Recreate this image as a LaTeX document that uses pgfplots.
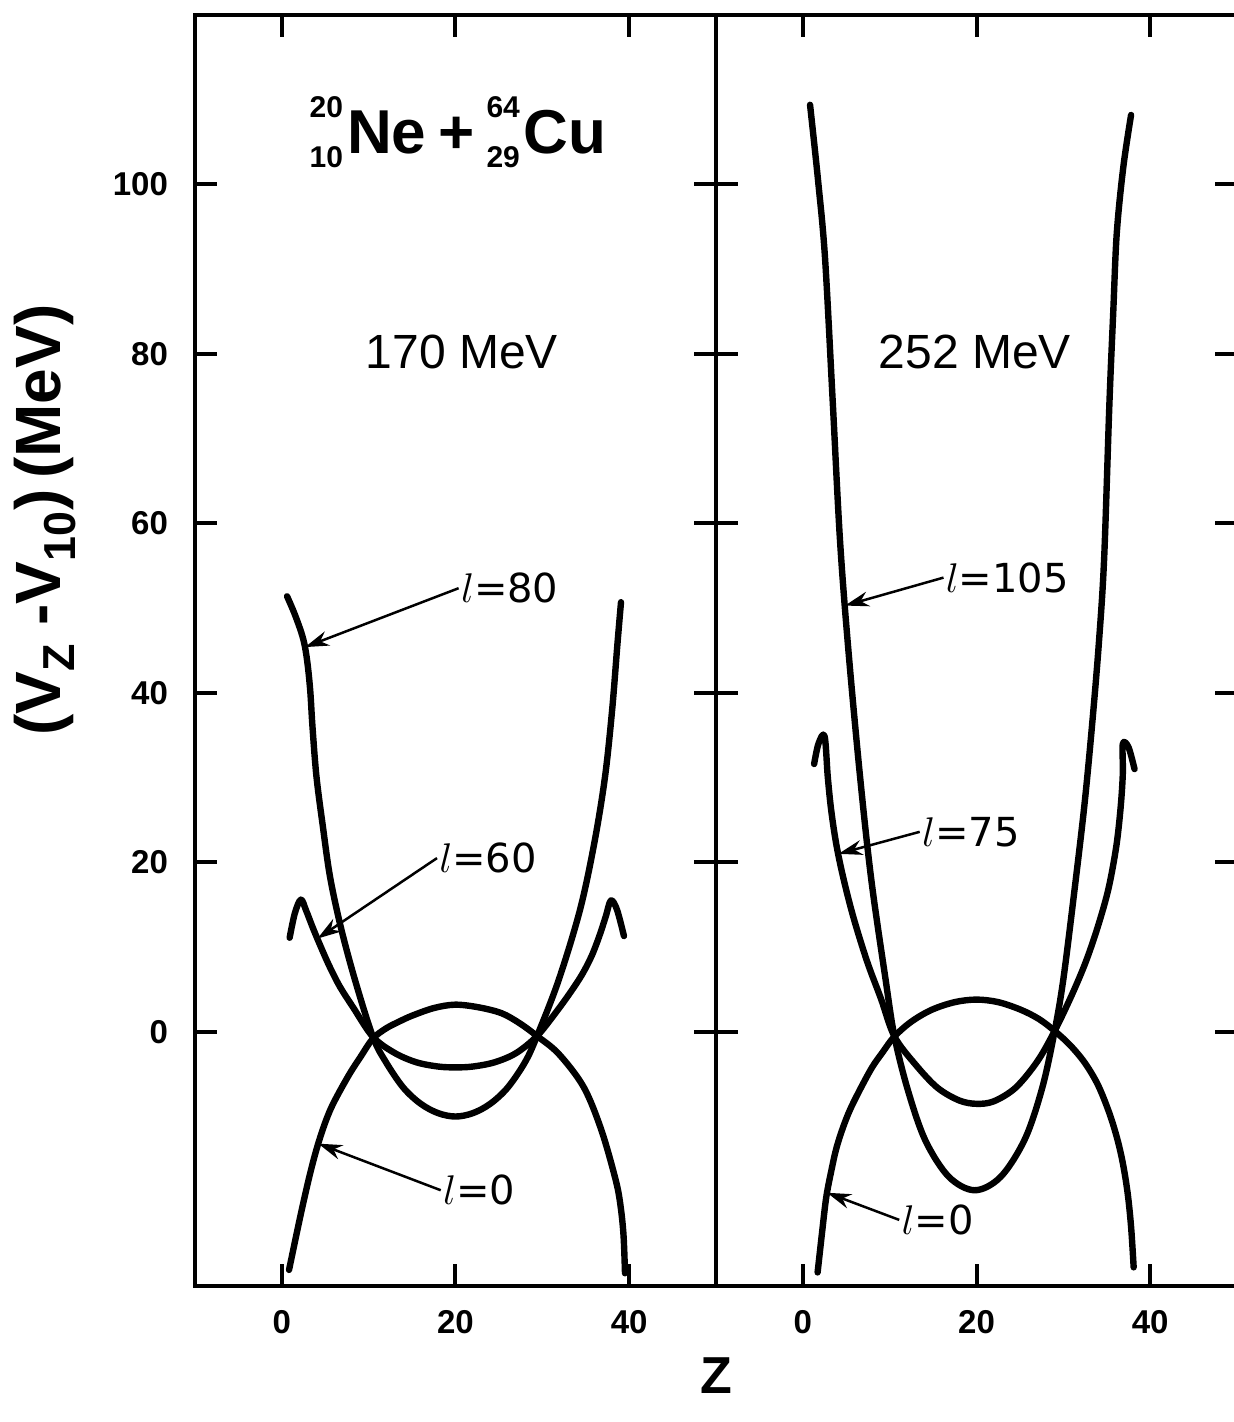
\documentclass[border=0pt]{standalone}
\usepackage{fontspec}
\setmainfont{Liberation Sans}
\newfontfamily\annfam{DejaVu Sans}
\usepackage{pgfplots}
\pgfplotsset{compat=1.18}
\usetikzlibrary{arrows.meta}

\newcommand\tickfont{\fontsize{16.5}{18}\selectfont\bfseries}
\newcommand\annfont{\annfam\fontsize{20}{24}\selectfont}
\newcommand\energyfont{\fontsize{24}{28}\selectfont}
\newcommand\nuc[3]{{\fontsize{15}{15}\selectfont\rlap{\raisebox{18pt}{#1}}\raisebox{-7pt}{#2}}\kern2pt#3}

\tikzset{
  ann/.style={black, line width=1.25pt, -{Stealth[length=12pt,width=7.5pt]}},
}
\pgfplotsset{
  panel/.style={
    scale only axis, width=260.5pt, height=635.5pt,
    xmin=-10, xmax=50, ymin=-30, ymax=120,
    xtick={0,20,40}, ytick={0,20,40,60,80,100},
    tick align=inside, major tick length=11pt,
    xtick pos=both, ytick pos=both,
    xticklabel pos=lower, yticklabel pos=left,
    axis line style={line width=2pt, black},
    tick style={line width=2pt, black},
    /pgf/number format/assume math mode=true,
    ticklabel style={font=\tickfont},
    yticklabel style={xshift=-10pt},
    xticklabel style={yshift=-8.5pt},
  },
  curve/.style={black, line width=3.2pt, line cap=round, line join=round, smooth, tension=0.55},
}

\begin{document}
\begin{tikzpicture}
\path[use as bounding box] (-97.5pt,-68pt) rectangle (519.5pt,643pt);

% ---------------- left panel: 170 MeV ----------------
\begin{axis}[panel, at={(0pt,0pt)}, anchor=south west]
% l = 0
\addplot[curve] table {
0.83 -28.1
2.21 -21.4
3.36 -16.3
4.40 -12.5
5.67 -9.0
7.61 -5.3
9.1 -2.9
10.49 -0.8
12.0 0.4
13.5 1.2
15.0 1.9
17.5 2.8
19.94 3.2
22.6 2.9
25.29 2.2
27.4 1.0
29.39 -0.5
31.88 -2.6
34.75 -6.5
36.8 -11.6
38.45 -17.5
39.0 -20.5
39.35 -24.0
39.52 -28.5
};
% l = 80
\addplot[curve] table {
0.60 51.4
1.44 49.4
2.25 47.1
2.67 45.4
3.0 43.1
3.29 40.0
3.53 36.0
3.99 30.1
4.73 24.2
5.55 18.3
6.78 12.4
8.43 6.1
10.49 -0.6
12.0 -3.6
14.0 -6.6
16.0 -8.5
18.0 -9.6
20.0 -10.0
22.0 -9.6
24.0 -8.5
26.0 -6.6
28.0 -3.6
29.39 -0.5
31.88 6.1
34.34 14.4
35.99 22.3
37.22 30.1
38.04 38.0
38.66 45.9
39.06 50.7
};
% l = 60
\addplot[curve] table {
0.9 11.1
1.5 14.0
2.2 15.6
2.8 14.3
3.6 12.2
4.5 10.0
5.5 7.7
6.7 5.3
8.2 2.9
10.49 -0.6
13.0 -2.5
15.5 -3.6
18.0 -4.1
20.0 -4.2
22.0 -4.1
24.5 -3.6
27.0 -2.5
29.39 -0.5
31.5 2.2
33.2 4.6
34.6 6.8
35.7 9.0
36.6 11.4
37.3 13.6
37.9 15.5
38.6 14.4
39.4 11.3
};
\node[font=\bfseries\fontsize{31}{34}\selectfont] at (axis cs:20.3,106.2)
  {\nuc{20}{10}{Ne}\kern6pt+\kern6pt\nuc{64}{29}{Cu}};
\node[font=\energyfont] at (axis cs:20.75,80.2) {170 MeV};
\draw[ann] (axis cs:20.36,52.35) -- (axis cs:2.67,45.4);
\node[anchor=west, inner sep=1pt, font=\annfont] at (axis cs:20.36,52.35) {$l$=80};
\draw[ann] (axis cs:17.87,20.5) -- (axis cs:4.1,11.0);
\node[anchor=west, inner sep=1pt, font=\annfont] at (axis cs:17.87,20.5) {$l$=60};
\draw[ann] (axis cs:18.3,-18.7) -- (axis cs:4.2,-13.2);
\node[anchor=west, inner sep=1pt, font=\annfont] at (axis cs:18.3,-18.7) {$l$=0};
\end{axis}

% ---------------- right panel: 252 MeV ----------------
\begin{axis}[panel, at={(260.5pt,0pt)}, anchor=south west, yticklabels={}]
% l = 0
\addplot[curve] table {
1.7 -28.4
2.2 -23.8
2.7 -19.5
3.3 -16.3
3.9 -13.6
4.8 -10.8
5.8 -8.4
7.8 -4.5
9.2 -2.4
10.55 -0.55
12.5 1.2
14.85 2.6
17.5 3.5
20.0 3.8
22.5 3.5
25.1 2.6
27.2 1.5
29.0 0.1
30.8 -1.6
32.5 -3.7
34.0 -6.3
35.3 -9.6
36.2 -12.6
36.85 -15.5
37.4 -19.0
37.8 -23.0
38.1 -27.8
};
% l = 105
\addplot[curve] table {
0.83 109.4
1.75 100.5
2.55 91.4
3.43 74.6
4.28 58.0
5.24 45.1
6.59 30.1
7.89 17.9
9.54 6.1
10.55 -0.55
12.1 -6.9
14.1 -12.8
16.8 -17.1
19.8 -18.7
22.8 -17.1
25.6 -12.6
27.6 -6.5
29.0 0.1
30.0 6.2
31.2 16.0
32.4 26.5
33.3 36.1
34.1 46.0
34.7 55.9
35.3 74.0
35.75 85.0
36.15 94.2
36.9 102.0
37.8 108.2
};
% l = 75
\addplot[curve] table {
1.3 31.6
1.8 34.0
2.5 34.9
2.87 30.1
3.26 26.2
3.84 22.2
4.63 18.3
5.8 13.6
7.4 8.3
9.0 3.9
10.55 -0.55
13.0 -3.9
15.5 -6.6
18.0 -8.1
20.0 -8.5
22.0 -8.2
24.5 -6.6
27.0 -3.5
29.0 0.1
31.0 4.4
32.6 8.3
34.0 12.5
35.2 16.9
36.1 21.9
36.6 26.5
36.85 30.5
36.85 34.0
37.5 33.6
38.2 31.0
};
\node[font=\energyfont] at (axis cs:19.8,80.2) {252 MeV};
\draw[ann] (axis cs:16.2,53.6) -- (axis cs:4.85,50.3);
\node[anchor=west, inner sep=1pt, font=\annfont] at (axis cs:16.2,53.6) {$l$=105};
\draw[ann] (axis cs:13.46,23.6) -- (axis cs:4.1,21.0);
\node[anchor=west, inner sep=1pt, font=\annfont] at (axis cs:13.46,23.6) {$l$=75};
\draw[ann] (axis cs:11.1,-22.2) -- (axis cs:2.8,-19.0);
\node[anchor=west, inner sep=1pt, font=\annfont] at (axis cs:11.1,-22.2) {$l$=0};
\end{axis}

\node[rotate=90, font=\bfseries\fontsize{32}{36}\selectfont] at (-75pt,383pt)
  {(V\textsubscript{Z} -V\textsubscript{10})\,(MeV)};
\node[font=\bfseries\fontsize{26}{30}\selectfont] at (260.5pt,-45pt) {Z};
\end{tikzpicture}
\end{document}
